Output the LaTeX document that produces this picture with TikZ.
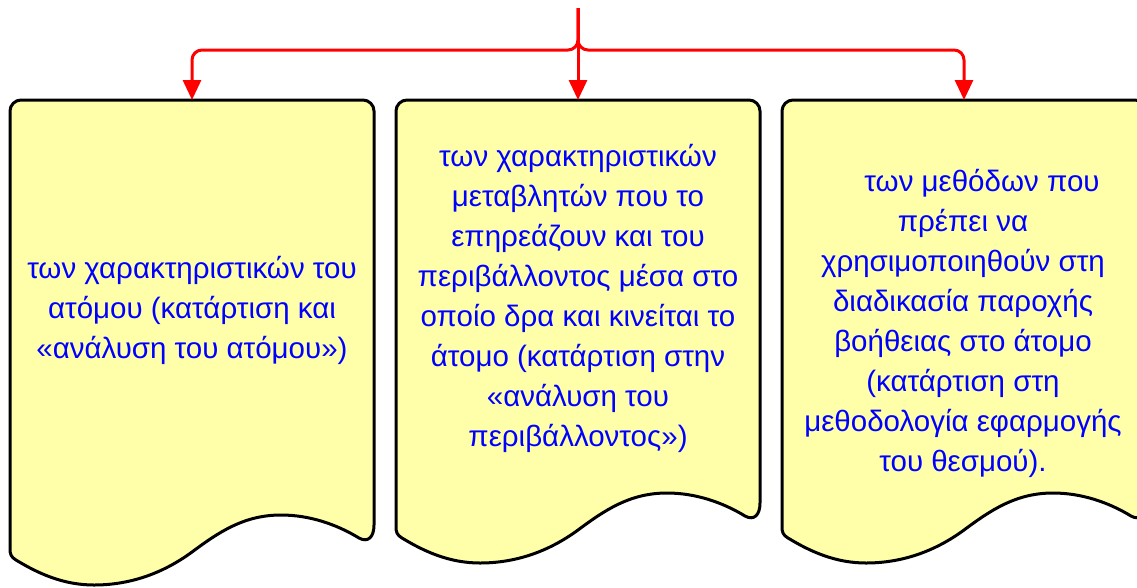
\documentclass[tikz,border=0pt]{standalone}
\usepackage{fontspec}
\setmainfont{Liberation Sans}
\usetikzlibrary{arrows.meta}
\definecolor{docfill}{HTML}{FFFFAA}
\definecolor{txtblue}{HTML}{0000FF}
\definecolor{connred}{HTML}{FF0000}
\tikzset{
  docbox/.style={draw=black, line width=3pt, fill=docfill, line join=round},
  conn/.style={draw=connred, line width=3pt, rounded corners=10pt,
    -{Triangle[width=18pt,length=20pt]}},
  doctext/.style={text=txtblue, align=center, inner sep=0pt,
    font=\fontsize{29.5}{40}\selectfont}
}
% #1 = left x, #2 = extra depth of the bottom
\newcommand\mydocshape[2]{%
  \begin{scope}[shift={(#1,100)}]
    \path[docbox] (0,{427+#2}) -- (0,11) .. controls (0,5) and (5,0) .. (11,0)
      -- (353,0) .. controls (359,0) and (364,5) .. (364,11)
      -- (364,{403+#2}) .. controls (364,{415+#2}) and (358,{421+#2}) .. (349,{416+#2})
      .. controls (326,{402+#2}) and (299,{393+#2}) .. (271,{393+#2})
      .. controls (234,{393+#2}) and (209,{410+#2}) .. (182,{430+#2})
      .. controls (152,{452+#2}) and (119,{463+#2}) .. (84,{463+#2})
      .. controls (54,{463+#2}) and (29,{452+#2}) .. (6,{438+#2})
      .. controls (1,{435+#2}) and (0,{432+#2}) .. (0,{427+#2}) -- cycle;
  \end{scope}}
\begin{document}
\begin{tikzpicture}[x=1pt,y=-1pt]
  \useasboundingbox (0,0) rectangle (1137,587);
  \clip (0,0) rectangle (1137,587);
  \fill[white] (0,0) rectangle (1137,587);

  % boxes
  \mydocshape{10}{22}
  \mydocshape{396}{0}
  \mydocshape{782}{0}

  \coordinate (b1top) at (192,100);
  \coordinate (b2top) at (578,100);
  \coordinate (b3top) at (964,100);
  \coordinate (src) at (578,8);
  \coordinate (junction) at (578,50);

  % texts
  \node[doctext] (t1) at (192,310) {των χαρακτηριστικών του\\ατόμου (κατάρτιση και\\«ανάλυση του ατόμου»)};
  \node[doctext] (t2) at (578,298) {των χαρακτηριστικών\\μεταβλητών που το\\επηρεάζουν και του\\περιβάλλοντος μέσα στο\\οποίο δρα και κινείται το\\άτομο (κατάρτιση στην\\«ανάλυση του\\περιβάλλοντος»)};
  \node[doctext] (t3) at (963,323) {\hspace*{38pt}των μεθόδων που\\πρέπει να\\χρησιμοποιηθούν στη\\διαδικασία παροχής\\βοήθειας στο άτομο\\(κατάρτιση στη\\μεθοδολογία εφαρμογής\\του θεσμού).};

  % connectors
  \draw[conn] (src) -- (junction) -| (b1top);
  \draw[conn] (src) -- (junction) -| (b3top);
  \draw[conn] (src) -- (b2top);
\end{tikzpicture}
\end{document}
